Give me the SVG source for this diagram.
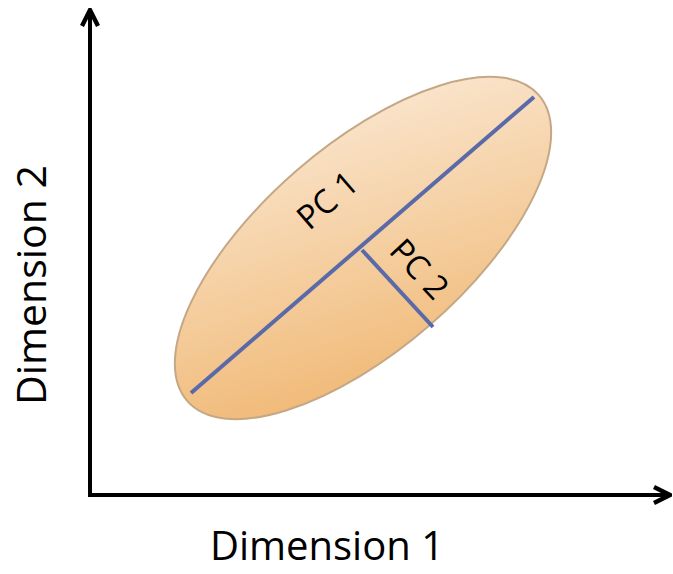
<svg xmlns="http://www.w3.org/2000/svg" width="673" height="574" viewBox="0 0 673 574">
<style>
.axis{stroke:#000;stroke-width:4;fill:none}
.pc{stroke:#5a6aa8;stroke-width:4;fill:none}
.lbl{font-family:"Open Sans","Liberation Sans",sans-serif;fill:#000}
</style>
<defs>
<linearGradient id="g" x1="0" y1="1" x2="1" y2="0">
<stop offset="0" stop-color="#efb36a"/>
<stop offset="1" stop-color="#fbebd9"/>
</linearGradient>
<marker id="ah" viewBox="0 0 10 10" refX="8" refY="5" markerWidth="5" markerHeight="5" orient="auto" markerUnits="strokeWidth">
<path d="M1,1 L9,5 L1,9" fill="none" stroke="#000" stroke-width="2.2"/>
</marker>
</defs>
<g id="ellipse">
<ellipse cx="363" cy="248" rx="233" ry="102" transform="rotate(-41 363 248)" fill="url(#g)" stroke="#c4a886" stroke-width="2"/>
</g>
<g id="connectors">
<line class="axis" x1="90" y1="497" x2="90" y2="12" marker-end="url(#ah)"/>
<line class="axis" x1="88" y1="495" x2="668" y2="495" marker-end="url(#ah)"/>
<line class="pc" x1="191" y1="393" x2="534" y2="97"/>
<line class="pc" x1="362" y1="250" x2="433" y2="327"/>
</g>
<g id="labels">
<text class="lbl" x="327" y="560" font-size="40" text-anchor="middle">Dimension 1</text>
<text class="lbl" transform="translate(46 285) rotate(-90)" font-size="41" text-anchor="middle">Dimension 2</text>
<text class="lbl" transform="translate(335 209) rotate(-41)" font-size="33" text-anchor="middle">PC 1</text>
<text class="lbl" transform="translate(411 277) rotate(47)" font-size="33" text-anchor="middle">PC 2</text>
</g>
</svg>
